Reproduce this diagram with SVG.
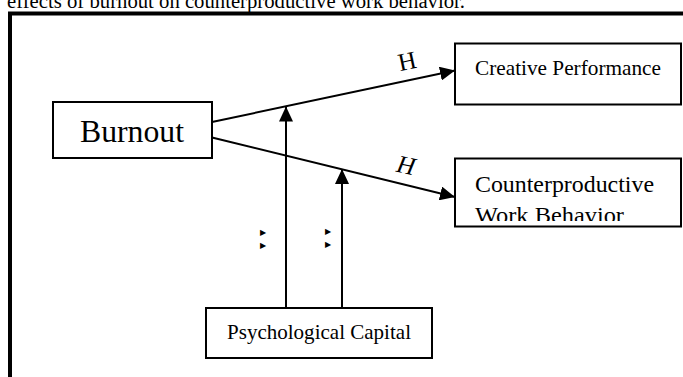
<svg xmlns="http://www.w3.org/2000/svg" width="683" height="377" viewBox="0 0 683 377">
<style>
  .box { fill: #ffffff; stroke: #000000; stroke-width: 2; }
  .lbl { font-family: "Liberation Serif", "Times New Roman", serif; fill: #000000; }
  .conn { stroke: #000000; stroke-width: 2; fill: none; }
  .frame { stroke: #000000; stroke-width: 4; fill: none; }
  .mark { font-family: "DejaVu Sans", sans-serif; font-size: 8px; fill: #000000; }
</style>
<defs>
  <marker id="arrow" markerUnits="userSpaceOnUse" markerWidth="15" markerHeight="14" refX="15" refY="7" orient="auto">
    <path d="M0,0 L15,7 L0,14 z" fill="#000000"/>
  </marker>
  <clipPath id="clipCWB">
    <rect x="455" y="159" width="226" height="62"/>
  </clipPath>
</defs>
<rect x="0" y="0" width="683" height="377" fill="#ffffff"/>
<text class="lbl" x="7" y="7.5" font-size="20.5" textLength="458" lengthAdjust="spacingAndGlyphs">effects of burnout on counterproductive work behavior.</text>
<path class="frame" d="M10,377 L10,13.5 L683,13.5"/>

<g id="connectors">
  <line class="conn" x1="212" y1="122" x2="455" y2="70.5" marker-end="url(#arrow)"/>
  <line class="conn" x1="212" y1="137.5" x2="455" y2="197" marker-end="url(#arrow)"/>
  <line class="conn" x1="286" y1="308" x2="286" y2="106.5" marker-end="url(#arrow)"/>
  <line class="conn" x1="342" y1="308" x2="342" y2="169" marker-end="url(#arrow)"/>
  <text class="lbl" x="407" y="69.5" font-size="25" text-anchor="middle" transform="rotate(-12 407 61)">H</text>
  <text class="lbl" x="406" y="173.5" font-size="25" font-style="italic" text-anchor="middle" transform="rotate(12 406 165)">H</text>
  <text class="mark" x="260" y="235">▶</text>
  <text class="mark" x="260" y="248">▶</text>
  <text class="mark" x="325" y="234">▶</text>
  <text class="mark" x="325" y="247">▶</text>
</g>

<g id="burnout">
  <rect class="box" x="53" y="102" width="159" height="56" stroke-width="1.5"/>
  <text class="lbl" x="80" y="141.5" font-size="31" textLength="104" lengthAdjust="spacingAndGlyphs">Burnout</text>
</g>

<g id="creative-performance">
  <rect class="box" x="455" y="43.5" width="226" height="61"/>
  <text class="lbl" x="475" y="75" font-size="21" textLength="186" lengthAdjust="spacingAndGlyphs">Creative Performance</text>
</g>

<g id="counterproductive-work-behavior">
  <rect class="box" x="455" y="158.5" width="226" height="68"/>
  <g clip-path="url(#clipCWB)">
    <text class="lbl" x="475" y="191.5" font-size="24" textLength="179" lengthAdjust="spacingAndGlyphs">Counterproductive</text>
    <text class="lbl" x="475" y="222.5" font-size="24" textLength="149" lengthAdjust="spacingAndGlyphs">Work Behavior</text>
  </g>
</g>

<g id="psychological-capital">
  <rect class="box" x="206" y="308" width="226" height="50"/>
  <text class="lbl" x="227" y="338.5" font-size="21" textLength="184" lengthAdjust="spacingAndGlyphs">Psychological Capital</text>
</g>
</svg>
